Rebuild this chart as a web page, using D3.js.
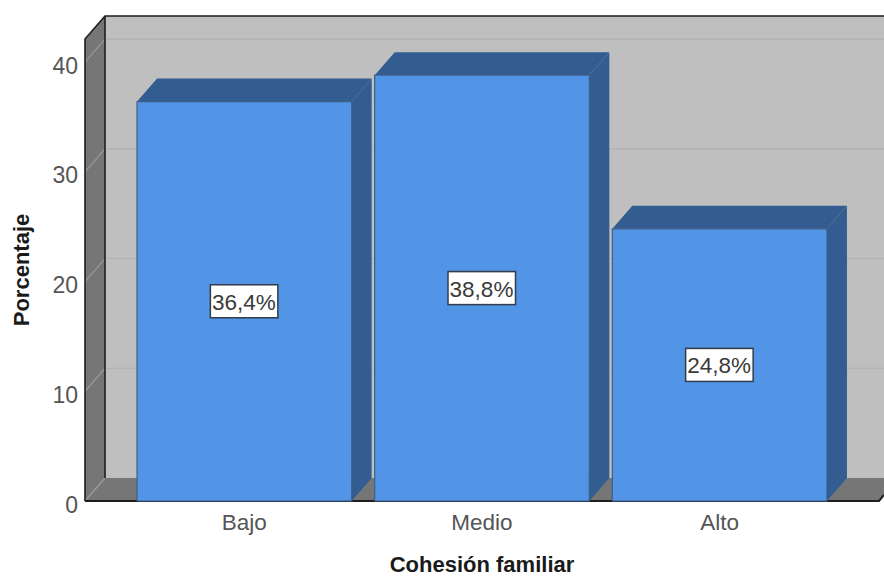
<!DOCTYPE html>
<html>
<head>
<meta charset="utf-8">
<script src="https://cdn.jsdelivr.net/npm/d3@7/dist/d3.min.js"></script>
<style>
html, body { margin: 0; padding: 0; background: #fff; }
svg { display: block; }
text { font-family: "Liberation Sans", Arial, sans-serif; }
</style>
</head>
<body>
<svg id="chart" width="884" height="577"></svg>
<script>
const categories = ["Bajo", "Medio", "Alto"];
const percentages = [36.4, 38.8, 24.8];
const valueLabels = ["36,4%", "38,8%", "24,8%"];
const yTicks = [0, 10, 20, 30, 40];
const xTitle = "Cohesión familiar";
const yTitle = "Porcentaje";

const svg = d3.select("#chart");

// Plot frame and the oblique offset of the 3D box
const left = 85, right = 879, floorY = 501, topY = 39;
const depthX = 20, depthY = 23;

const y = d3.scaleLinear().domain([0, 42.1]).range([floorY, topY]);
const x = d3.scaleBand().domain(categories).range([left, right])
  .paddingInner(0.0968).paddingOuter(0.219);

const poly = (pts, fill, stroke) => svg.append("polygon")
  .attr("points", pts.map(p => p.join(",")).join(" "))
  .attr("fill", fill)
  .attr("stroke", stroke || "none");

const wallBack = "#bfbfbf", wallSide = "#767676", barFront = "#5294e6", barDark = "#335c91";

// Back wall, side wall, floor
poly([[left + depthX, topY - depthY], [right + depthX + 10, topY - depthY],
      [right + depthX + 10, floorY - depthY], [left + depthX, floorY - depthY]], wallBack);
poly([[left, topY], [left + depthX, topY - depthY],
      [left + depthX, floorY - depthY], [left, floorY]], wallSide);
poly([[left, floorY], [left + depthX, floorY - depthY],
      [right + depthX, floorY - depthY], [right, floorY]], wallSide);

// Gridlines run along the back wall and down the side wall
const grid = svg.append("g").attr("fill", "none").attr("stroke-width", 1.2);
yTicks.forEach(t => {
  if (t > 0) {
    grid.append("line")
      .attr("x1", left + depthX).attr("x2", 884)
      .attr("y1", y(t) - depthY).attr("y2", y(t) - depthY)
      .attr("stroke", "#b0b0b0");
  }
  grid.append("line")
    .attr("x1", left).attr("x2", left + depthX)
    .attr("y1", y(t)).attr("y2", y(t) - depthY)
    .attr("stroke", "#9a9a9a");
});

// Frame edges
const edges = svg.append("g").attr("stroke", "#1e1e1e").attr("stroke-width", 1.6).attr("fill", "none");
edges.append("path").attr("d",
  `M${left},${floorY}V${topY}L${left + depthX},${topY - depthY}H884`);
edges.append("path").attr("d", `M${left + depthX},${topY - depthY}V${floorY - depthY}`);
edges.append("path").attr("stroke-width", 2).attr("d",
  `M${left},${floorY}H${right}L${right + 5},${floorY - 6}`);

// Bars: top face, side face, front face
const bars = svg.append("g").selectAll("g").data(categories).join("g");
bars.each(function (c, i) {
  const g = d3.select(this);
  const x0 = x(c), x1 = x0 + x.bandwidth(), yv = y(percentages[i]);
  g.append("polygon").attr("fill", barDark).attr("points", [
    [x0, yv], [x0 + depthX, yv - depthY], [x1 + depthX, yv - depthY], [x1, yv]
  ].map(p => p.join(",")).join(" "));
  g.append("polygon").attr("fill", barDark).attr("points", [
    [x1, yv], [x1 + depthX, yv - depthY], [x1 + depthX, floorY - depthY], [x1, floorY]
  ].map(p => p.join(",")).join(" "));
  g.append("rect").attr("x", x0).attr("y", yv)
    .attr("width", x.bandwidth()).attr("height", floorY - yv)
    .attr("fill", barFront);
  g.append("path").attr("fill", "none").attr("stroke", "#3f5f88").attr("stroke-width", 1.2)
    .attr("d", `M${x0},${floorY}V${yv}H${x1}V${floorY}H${x0}`);
});

// Value boxes centred on each bar's front face
const labels = svg.append("g").selectAll("g").data(categories).join("g")
  .attr("transform", (c, i) => `translate(${x(c) + x.bandwidth() / 2},${y(percentages[i] / 2)})`);
labels.append("rect")
  .attr("x", -34).attr("y", -16.5).attr("width", 67.5).attr("height", 33)
  .attr("fill", "#fff").attr("stroke", "#333c48").attr("stroke-width", 1.5);
labels.append("text")
  .attr("text-anchor", "middle").attr("x", -0.5).attr("y", 8.5)
  .attr("font-size", 22.5).attr("fill", "#3a3a3a")
  .text((c, i) => valueLabels[i]);

// Tick labels
svg.append("g").selectAll("text").data(yTicks).join("text")
  .attr("x", 78).attr("y", d => y(d) + 11.5)
  .attr("text-anchor", "end").attr("font-size", 23).attr("fill", "#555")
  .text(d => d);
svg.append("g").selectAll("text").data(categories).join("text")
  .attr("x", c => x(c) + x.bandwidth() / 2).attr("y", 530)
  .attr("text-anchor", "middle").attr("font-size", 22.5).attr("fill", "#555")
  .text(d => d);

// Axis titles
svg.append("text").attr("x", 482).attr("y", 572)
  .attr("text-anchor", "middle").attr("font-size", 22).attr("font-weight", "bold").attr("fill", "#1a1a1a")
  .text(xTitle);
svg.append("text").attr("transform", "translate(29,270) rotate(-90)")
  .attr("text-anchor", "middle").attr("font-size", 22).attr("font-weight", "bold").attr("fill", "#1a1a1a")
  .text(yTitle);
</script>
</body>
</html>
